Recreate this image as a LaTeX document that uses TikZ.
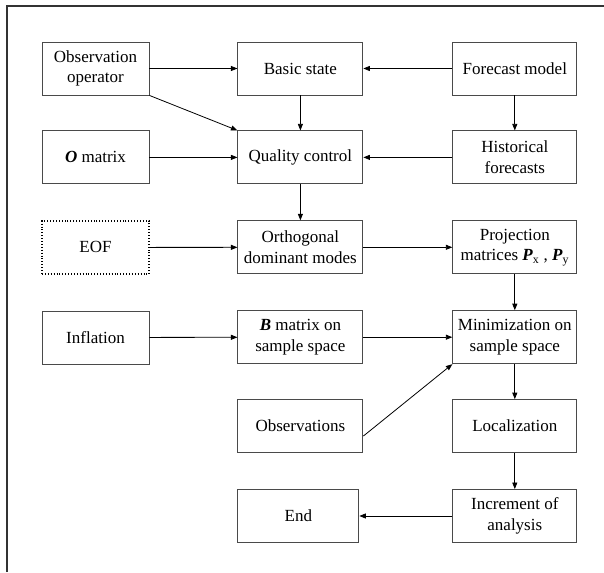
\documentclass[tikz,border=0pt]{standalone}
\usepackage{fontspec}
\setmainfont{Liberation Serif}
\usetikzlibrary{arrows.meta, positioning}
\definecolor{cBox}{HTML}{4A4A4A}
\definecolor{cFrame}{HTML}{333333}
\newcommand{\bfit}[1]{\textbf{\textit{#1}}}

\begin{document}
\begin{tikzpicture}[
  x=1pt, y=1pt,
  font=\fontsize{17}{20.5}\selectfont,
  >={Triangle[length=6.5pt, width=5pt]},
  box/.style={rectangle, draw=cBox, line width=0.9pt, align=center,
              minimum height=53pt, inner sep=2pt},
  wa/.style={box, minimum width=107pt},
  wb/.style={box, minimum width=125pt},
  wc/.style={box, minimum width=124pt},
  flow/.style={->, line width=0.8pt, draw=black},
]
\useasboundingbox (0,0) rectangle (604,572);

% outer frame (left and top edges only)
\draw[cFrame, line width=1.6pt] (7,0) -- (7,566) -- (604,566);

% =========================== ROW 1 ===========================
\node[wa] (obsop) at (95.5,503.5) {Observation\\operator};
\node[wb, right=88pt of obsop] (basic) {Basic state};
\node[wc, right=89pt of basic] (fcst) {Forecast model};

% =========================== ROW 2 ===========================
\node[wa, below=35pt of obsop] (omat) {\bfit{O} matrix};
\node[wb, below=35pt of basic] (qc) {Quality control};
\node[wc, below=35pt of fcst] (hist) {Historical\\forecasts};

% =========================== ROW 3 ===========================
\node[wa, below=36pt of omat, draw=black, dotted, line width=1.2pt] (eof) {EOF};
\node[wb, below=36pt of qc] (modes) {Orthogonal\\dominant modes};
\node[wc, below=36pt of hist] (proj) {Projection\\matrices \bfit{P}\textsubscript{x} , \bfit{P}\textsubscript{y}};

% =========================== ROW 4 ===========================
\node[wa, below=36pt of eof] (infl) {Inflation};
\node[wb, below=36pt of modes] (bmat) {\bfit{B} matrix on\\sample space};
\node[wc, below=36pt of proj] (mini) {Minimization on\\sample space};

% =========================== ROW 5-6 ===========================
\node[wb, below=35pt of bmat] (obs) {Observations};
\node[wc, below=35pt of mini] (loc) {Localization};
\node[wc, below=36pt of loc] (incr) {Increment of\\analysis};
\node[box, minimum width=121pt, below=36pt of obs.south west, anchor=north west] (fin) {End};

\foreach \a/\b in {obsop/basic, fcst/basic, basic/qc, fcst/hist, omat/qc, hist/qc,
                   qc/modes, eof/modes, modes/proj, proj/mini, infl/bmat, bmat/mini,
                   mini/loc, loc/incr, incr/fin}
  \draw[flow] (\a) -- (\b);

% diagonal feeds into box corners
\draw[flow] (obsop.south east) -- (qc.north west);
\draw[flow] (obs.-9) -- (mini.south west);

\end{tikzpicture}
\end{document}
